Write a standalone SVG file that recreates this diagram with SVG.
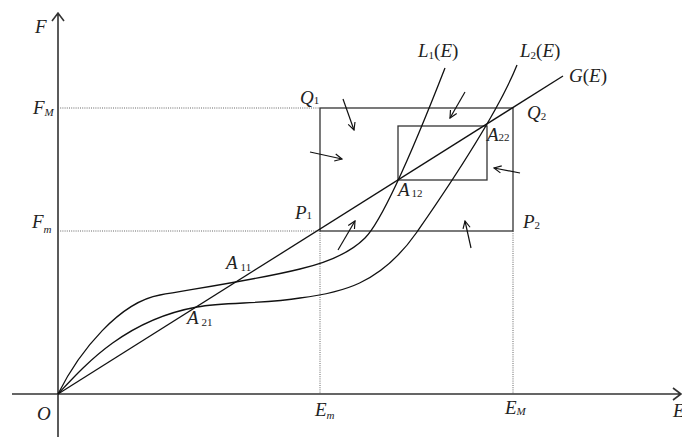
<svg xmlns="http://www.w3.org/2000/svg" width="682" height="437" viewBox="0 0 682 437">
<style>
.ax{stroke:#333;stroke-width:1.6;fill:none}
.ln{stroke:#111;stroke-width:1.3;fill:none}
.bx{stroke:#333;stroke-width:1.3;fill:none}
.dt{stroke:#555;stroke-width:0.9;stroke-dasharray:1 1.2;fill:none}
.ar{stroke:#111;stroke-width:1.2;fill:none}
text{font-family:"Liberation Serif","Times New Roman",serif;fill:#222}
.v{font-style:italic;font-size:19px}
.p{font-size:19px}
.s{font-size:11px}
</style>
<defs>
<marker id="ah" viewBox="0 0 10 10" refX="9" refY="5" markerWidth="9" markerHeight="9" markerUnits="userSpaceOnUse" orient="auto"><path d="M1,1 L9,5 L1,9" fill="none" stroke="#111" stroke-width="1.3"/></marker>
</defs>
<g id="axes">
<path class="ax" d="M58,437 V13 M52,21 L58,13 L64,21"/>
<path class="ax" d="M12,394 H681 M673,388 L681,394 L673,400"/>
</g>
<g id="guides">
<path class="dt" d="M58,108 H320 M58,231 H320 M320,231 V394 M513,231 V394"/>
</g>
<g id="outer-box"><rect class="bx" x="320" y="108" width="193" height="123"/></g>
<g id="inner-box"><rect class="bx" x="398" y="126" width="89" height="54"/></g>
<g id="connectors">
<path id="G" class="ln" d="M58,394 L563,76"/>
<path id="L1" class="ln" d="M58,394 C80,350 120,302 160,295 C200,288 260,279 300,269 C330,262 351,252 365,238 C383,220 415,145 445,68"/>
<path id="L2" class="ln" d="M58,394 C85,365 125,320 197,307 C225,302 265,304 300,298 C340,293 380,285 417,232 C437,203 495,120 517,65"/>
<path class="ar" marker-end="url(#ah)" d="M343,99 L354,130"/>
<path class="ar" marker-end="url(#ah)" d="M310,152 L342,159"/>
<path class="ar" marker-end="url(#ah)" d="M465,92 L450,118"/>
<path class="ar" marker-end="url(#ah)" d="M520,173 L494,168"/>
<path class="ar" marker-end="url(#ah)" d="M471,248 L465,221"/>
<path class="ar" marker-end="url(#ah)" d="M338,250 L355,221"/>
</g>
<g id="labels">
<text class="v" x="35" y="33">F</text>
<text x="33" y="114"><tspan class="v">F</tspan><tspan class="s" font-style="italic" dy="2">M</tspan></text>
<text x="32" y="228"><tspan class="v">F</tspan><tspan class="s" font-style="italic" dy="5">m</tspan></text>
<text class="v" x="37" y="420">O</text>
<text x="315" y="416"><tspan class="v">E</tspan><tspan class="s" font-style="italic" dy="3">m</tspan></text>
<text x="505" y="414"><tspan class="v">E</tspan><tspan class="s" font-style="italic" dy="1">M</tspan></text>
<text class="v" x="673" y="417">E</text>
<text x="300" y="104"><tspan class="v">Q</tspan><tspan class="s" dy="0">1</tspan></text>
<text x="527" y="119"><tspan class="v">Q</tspan><tspan class="s" dy="1">2</tspan></text>
<text x="295" y="219"><tspan class="v">P</tspan><tspan class="s" dy="0">1</tspan></text>
<text x="523" y="228"><tspan class="v">P</tspan><tspan class="s" dy="1">2</tspan></text>
<text x="487" y="141"><tspan class="v">A</tspan><tspan class="s" dy="0">22</tspan></text>
<text x="398" y="196"><tspan class="v">A</tspan><tspan class="s" dy="1" dx="2">12</tspan></text>
<text x="226" y="269"><tspan class="v">A</tspan><tspan class="s" dy="2" dx="3">11</tspan></text>
<text x="187" y="324"><tspan class="v">A</tspan><tspan class="s" dy="2" dx="3">21</tspan></text>
<text x="418" y="57"><tspan class="v">L</tspan><tspan class="s" dy="2">1</tspan><tspan class="p" dy="-2">(</tspan><tspan class="v">E</tspan><tspan class="p">)</tspan></text>
<text x="520" y="57"><tspan class="v">L</tspan><tspan class="s" dy="2">2</tspan><tspan class="p" dy="-2">(</tspan><tspan class="v">E</tspan><tspan class="p">)</tspan></text>
<text x="569" y="82"><tspan class="v">G</tspan><tspan class="p">(</tspan><tspan class="v">E</tspan><tspan class="p">)</tspan></text>
</g>
</svg>
